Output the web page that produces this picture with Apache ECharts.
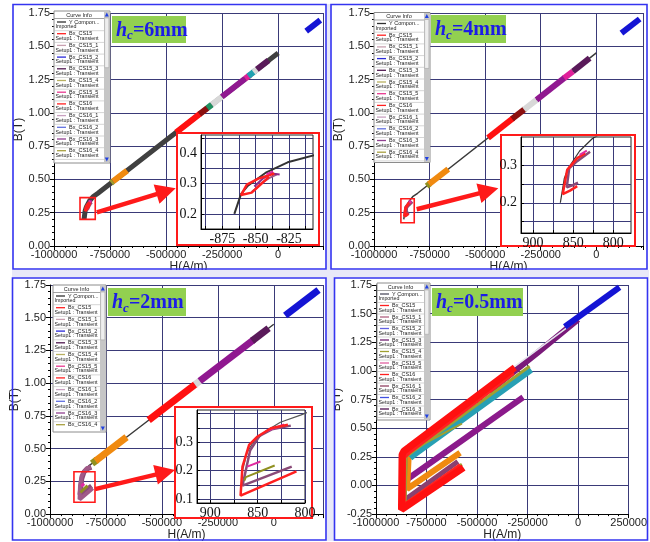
<!DOCTYPE html>
<html>
<head>
<meta charset="utf-8">
<title>B-H curves for different hc</title>
<script src="https://cdn.jsdelivr.net/npm/echarts@6.0.0/dist/echarts.min.js"></script>
<style>
html,body{margin:0;padding:0;background:#ffffff;}
#chart{width:650px;height:542px;}
</style>
</head>
<body>
<div id="chart"></div>
<script>
// ---------------- data ----------------
const hcTags = ['6mm', '4mm', '2mm', '0.5mm'];

// Imported Y-component B-H curve (H in A/m, B in T)
const yComponent = [[-866000,0.200],[-861000,0.265],[-856000,0.292],[-842000,0.337],[-826000,0.370],[-804000,0.396],[0,1.450]];

// Minor loops sitting on the curve, each [H1, B1, H2, B2]
const loops6 = [
  [-745000,0.474,-737000,0.485],[-737000,0.485,-674000,0.567],[-455000,0.854,-348000,0.994],
  [-351000,0.990,-316000,1.036],[-316000,1.036,-296000,1.062],[-296000,1.062,-251000,1.121],
  [-251000,1.121,-147000,1.257],[-147000,1.257,-125000,1.286],[-133000,1.276,-103000,1.315],
  [-110000,1.306,-88000,1.335],[-95000,1.326,-43000,1.394],[125000,1.614,188000,1.696]
];
const loops4 = [
  [-763000,0.450,-748000,0.470],[-753000,0.464,-666000,0.578],[-487000,0.812,-374000,0.960],
  [-379000,0.954,-322000,1.028],[-325000,1.024,-269000,1.098],[-269000,1.098,-142000,1.264],
  [-145000,1.260,-105000,1.312],[-105000,1.312,-30000,1.411],[113000,1.598,195000,1.705]
];
const loops2 = [
  [-812000,0.386,-789000,0.416],[-797000,0.406,-658000,0.588],[-559000,0.718,-350000,0.992],
  [-352000,0.989,-328000,1.020],[-331000,1.016,-90000,1.332],[-97000,1.323,-23000,1.420],
  [51000,1.517,200000,1.712]
];

// Loops near the knee, H in kA/m
const knee6Red = [[-836,0.333],[-848,0.316],[-856.6,0.296],[-861,0.262],[-853,0.270],[-848,0.290],[-840,0.322]];
const knee6Mauve = [[-853,0.272],[-850,0.283],[-846,0.300],[-840,0.318],[-834,0.330]];
const knee6Purple = [[-851,0.290],[-845,0.315],[-838,0.333],[-832,0.330]];
const knee6Magenta = [[-842,0.330],[-837,0.340]];

const knee4Red = [[-835,0.331],[-845,0.318],[-857.5,0.287],[-863,0.223],[-854,0.232],[-845,0.244]];
const knee4Mauve = [[-829,0.335],[-845,0.310],[-855,0.291],[-858,0.241],[-850,0.247],[-844,0.253]];
const knee4Magenta = [[-842,0.327],[-833,0.338]];

const knee2Red = [[-818,0.361],[-836,0.349],[-850,0.320],[-859,0.290],[-866,0.214],[-868,0.112],[-809,0.197]];
const knee2Mauve = [[-815,0.358],[-835,0.345],[-848,0.322],[-858,0.270],[-866,0.147],[-814,0.214]];
const knee2Olive = [[-864,0.165],[-862.5,0.177],[-832,0.218]];
const knee2Pink = [[-861,0.214],[-847,0.232]];
const knee2PinkTop = [[-840,0.340],[-822,0.362]];

// hc = 0.5 mm major loops (H in A/m, B in T)
const p4PurpleTop = [[-440000,0.82],[-200000,1.16],[0,1.45]];
const p4Purple = [[-830000,0.32],[-845000,0.27],[-849000,0.05],[-272000,0.77]];
const p4Orange = [[-820000,0.31],[-838000,0.27],[-846000,-0.03],[-584000,0.285]];
const p4Mauve = [[-330000,1.00],[-840000,0.32],[-857000,0.26],[-861000,-0.13],[-595000,0.21]];
const p4Olive = [[-240000,1.04],[-815000,0.30],[-851000,0.25],[-856000,-0.16],[-575000,0.185]];
const p4Olive2 = [[-575000,0.54],[-830000,0.30]];
const p4Cyan = [[-232000,1.01],[-810000,0.27],[-830000,0.24]];
const p4Red2 = [[-322000,0.99],[-836000,0.30],[-866000,0.25],[-868000,-0.19],[-580000,0.17]];
const p4Red = [[-313000,1.03],[-839000,0.33],[-862000,0.30],[-871000,0.27],[-874000,-0.21],[-866000,-0.22],[-567000,0.156]];
const p4Blue = [[-66000,1.386],[205000,1.73]];

// legend entries
const legendNames = ['Y Compon...','Bx_CS15','Bx_CS15_1','Bx_CS15_2','Bx_CS15_3','Bx_CS15_4','Bx_CS15_5','Bx_CS16','Bx_CS16_1','Bx_CS16_2','Bx_CS16_3','Bx_CS16_4'];
const legendSubs = ['Imported','Setup1 : Transient','Setup1 : Transient','Setup1 : Transient','Setup1 : Transient','Setup1 : Transient','Setup1 : Transient','Setup1 : Transient','Setup1 : Transient','Setup1 : Transient','Setup1 : Transient','Setup1 : Transient'];

// ---------------- styles ----------------
const FONT = 'Liberation Sans';
const SERIF = 'Liberation Serif';
const GRIDLINE = '#3a3a78';
const legendColors = ['#303030','#ff2020','#c8a0b0','#2828d8','#501850','#b8b060','#e83890','#ff2020','#c8a0c0','#6070e0','#904090','#a8a040'];
const legendColors4 = ['#505060','#ff2020','#b06080','#6060e0','#702070','#a0a030','#e060a0','#ff2020','#904060','#4050e0','#501050'];
const loopColors6 = ['#a0a030','#f08a10','#ff1010','#8b1010','#209060','#d8d8d8','#901890','#e0209a','#20a0b0','#d8d8d8','#5a1a5a','#1414d4'];
const loopColors4 = ['#909020','#f08a10','#ff1010','#8b1010','#d8d8d8','#901890','#e0209a','#5a1a5a','#1414d4'];
const loopColors2 = ['#909020','#f08a10','#ff1010','#d8d8d8','#901890','#5a1a5a','#1414d4'];

const mainGrids = [
  {left:54, top:13, width:269, height:233},
  {left:374, top:13, width:269, height:233},
  {left:50, top:285, width:273, height:233},
  {left:376, top:285, width:254, height:232}
];
const hMax = [200000, 210000, 220000, 250000];
const bMin = [0, 0, 0, -0.25];
const bNameGap = [27, 27, 24, 30];

const insetGrids = [
  {left:201, top:135, width:112, height:94},
  {left:521, top:137, width:110, height:96},
  {left:197, top:410, width:108, height:93}
];
const insetX = [
  {min:-891, max:-807, ticks:[-887.5,-875,-862.5,-850,-837.5,-825,-812.5], labels:[-875,-850,-825], abs:false},
  {min:-915, max:-778, ticks:[-900,-875,-850,-825,-800], labels:[-900,-850,-800], abs:true},
  {min:-914, max:-800, ticks:[-900,-875,-850,-825,-800], labels:[-900,-850,-800], abs:true}
];
const insetY = [
  {min:0.15, max:0.46, ticks:[0.15,0.2,0.25,0.3,0.35,0.4,0.45], labels:[0.2,0.3,0.4]},
  {min:0.12, max:0.374, ticks:[0.15,0.2,0.25,0.3,0.35], labels:[0.2,0.3]},
  {min:0.086, max:0.413, ticks:[0.1,0.15,0.2,0.25,0.3,0.35,0.4], labels:[0.1,0.2,0.3]}
];

// ---------------- axes ----------------
const grids = [];
const xAxes = [];
const yAxes = [];
mainGrids.forEach((g, i) => {
  grids.push(Object.assign({show:false}, g));
  xAxes.push({
    type:'value', gridIndex:i, min:-1000000, max:hMax[i], interval:250000,
    name:'H(A/m)', nameLocation:'middle', nameGap:11,
    nameTextStyle:{fontFamily:FONT, fontSize:12, color:'#222'},
    axisLine:{show:true, onZero:false, lineStyle:{color:'#000', width:1}},
    axisTick:{show:true, inside:false, length:4, lineStyle:{color:'#000'}},
    minorTick:{show:true, splitNumber:5, length:2, lineStyle:{color:'#000'}},
    axisLabel:{formatter:v => String(v), fontFamily:FONT, fontSize:11, color:'#222', margin:3,
               showMaxLabel:i === 3, showMinLabel:true},
    splitLine:{show:true, lineStyle:{color:GRIDLINE, width:1}}
  });
  yAxes.push({
    type:'value', gridIndex:i, min:bMin[i], max:1.75, interval:0.25,
    name:'B(T)', nameLocation:'middle', nameGap:bNameGap[i], nameRotate:90,
    nameTextStyle:{fontFamily:FONT, fontSize:12, color:'#222'},
    axisLine:{show:true, onZero:false, lineStyle:{color:'#000', width:1}},
    axisTick:{show:true, inside:false, length:4, lineStyle:{color:'#000'}},
    minorTick:{show:true, splitNumber:5, length:2, lineStyle:{color:'#000'}},
    axisLabel:{formatter:v => v.toFixed(2), fontFamily:FONT, fontSize:11, color:'#222', margin:4},
    splitLine:{show:true, lineStyle:{color:GRIDLINE, width:1}}
  });
});
insetGrids.forEach((g, k) => {
  const gi = 4 + k;
  grids.push(Object.assign({show:true, z:6, backgroundColor:'#fff', borderColor:'#222', borderWidth:1}, g));
  const ax = insetX[k], ay = insetY[k];
  xAxes.push({
    type:'value', gridIndex:gi, min:ax.min, max:ax.max, z:7,
    axisLine:{show:true, onZero:false, lineStyle:{color:'#000'}},
    axisTick:{show:true, inside:true, length:3, customValues:ax.ticks, lineStyle:{color:'#000'}},
    axisLabel:{customValues:ax.labels, formatter:v => String(ax.abs ? Math.abs(v) : v),
               fontFamily:SERIF, fontSize:14, color:'#111', margin:3},
    splitLine:{show:true, lineStyle:{color:GRIDLINE, width:1}}
  });
  yAxes.push({
    type:'value', gridIndex:gi, min:ay.min, max:ay.max, z:7,
    axisLine:{show:true, onZero:false, lineStyle:{color:'#000'}},
    axisTick:{show:true, inside:true, length:3, customValues:ay.ticks, lineStyle:{color:'#000'}},
    axisLabel:{customValues:ay.labels, formatter:v => v.toFixed(1),
               fontFamily:SERIF, fontSize:14, color:'#111', margin:4},
    splitLine:{show:true, lineStyle:{color:GRIDLINE, width:1}}
  });
});

// ---------------- series ----------------
const series = [];
function line(ai, data, color, width, z) {
  series.push({type:'line', xAxisIndex:ai, yAxisIndex:ai, data:data, symbol:'none', silent:true,
    animation:false, z:z, lineStyle:{color:color, width:width}});
}
const kA = arr => arr.map(p => [p[0] * 1000, p[1]]);
const toKA = arr => arr.map(p => [p[0] / 1000, p[1]]);
function loopSegments(ai, loops, colors, width) {
  loops.forEach((s, i) => line(ai, [[s[0], s[1]], [s[2], s[3]]], colors[i], width, 3));
}

// hc = 6 mm
line(0, yComponent, '#404040', 5, 2);
loopSegments(0, loops6, loopColors6, 6);
line(0, kA(knee6Mauve), '#a05a88', 4, 3);
line(0, kA(knee6Purple), '#8a2a8a', 4, 3);
line(0, kA(knee6Red), '#ff2020', 3, 3);
line(0, kA(knee6Magenta), '#e02aa0', 3, 3);
// hc = 4 mm
line(1, yComponent, '#3a3a3a', 1.5, 2);
loopSegments(1, loops4, loopColors4, 6);
line(1, kA(knee4Mauve), '#8a4a78', 4, 3);
line(1, kA(knee4Red), '#ff2020', 3, 3);
line(1, kA(knee4Magenta), '#e02aa0', 3, 3);
// hc = 2 mm
line(2, yComponent, '#3a3a3a', 1.5, 2);
loopSegments(2, loops2, loopColors2, 7);
line(2, kA(knee2Mauve), '#8a4a78', 5, 3);
line(2, kA(knee2Red), '#a05a88', 4, 3);
line(2, kA(knee2Olive), '#909020', 3, 3);
line(2, kA(knee2Pink), '#e02aa0', 3, 3);
// hc = 0.5 mm
line(3, p4PurpleTop, '#7a1a7a', 6, 3);
line(3, p4Purple, '#8b1a8b', 6, 3);
line(3, p4Orange, '#f08a10', 6, 3);
line(3, p4Mauve, '#8a4070', 5, 3);
line(3, p4Cyan, '#28a0b4', 6, 3);
line(3, p4Olive, '#a0a030', 3, 3);
line(3, p4Olive2, '#a0a030', 2, 3);
line(3, yComponent, '#e4e4ec', 1.5, 3);
line(3, p4Red2, '#ff2020', 6, 4);
line(3, p4Red, '#ff1010', 7, 4);
line(3, p4Blue, '#1414d4', 6, 4);

// insets
line(4, toKA(yComponent), '#333', 2, 8);
line(4, knee6Mauve, '#a05a88', 2, 8);
line(4, knee6Purple, '#8a2a8a', 2, 8);
line(4, knee6Red, '#ff2020', 2.5, 9);
line(4, knee6Magenta, '#e02aa0', 2, 9);

line(5, toKA(yComponent), '#333', 1.2, 8);
line(5, knee4Mauve, '#8a4a78', 2.5, 8);
line(5, knee4Red, '#ff2020', 2.5, 9);
line(5, knee4Magenta, '#e02aa0', 2, 9);

line(6, toKA(yComponent), '#555', 1.2, 8);
line(6, knee2Mauve, '#8a4a78', 2.5, 8);
line(6, knee2Olive, '#909020', 2, 8);
line(6, knee2Pink, '#e02aa0', 2, 8);
line(6, knee2PinkTop, '#e02aa0', 2, 8);
line(6, knee2Red, '#ff2020', 2.5, 9);

// ---------------- chart ----------------
const chart = echarts.init(document.getElementById('chart'), null, {renderer:'canvas'});
chart.setOption({animation:false, backgroundColor:'#ffffff', grid:grids, xAxis:xAxes, yAxis:yAxes, series:series});

// ---------------- annotations ----------------
const panelFrames = [
  {x:13, y:4.5, w:313, h:264.5}, {x:331, y:4.5, w:316, h:264.5},
  {x:12.5, y:278, w:313.5, h:262}, {x:334.5, y:278, w:313, h:262}
];
const gapBands = [
  {x:12, y:270, w:637, h:7.5}, {x:326.5, y:4, w:4, h:266}, {x:326.5, y:277, w:7.5, h:264}
];
const tagBoxes = [
  {x:112, y:16, w:74, h:27}, {x:431, y:15, w:75, h:28},
  {x:108, y:288, w:78, h:28}, {x:432, y:288, w:91, h:28}
];
const legendBoxes = [
  {x:54, y:11, w:56, h:152, row:11.7, n:12},
  {x:374, y:12.5, w:56, h:150, row:11.7, n:12},
  {x:53, y:285, w:53, h:147, row:11.7, n:12},
  {x:377, y:283, w:53, h:137, row:11.5, n:11}
];
// zoom windows in data units [Hmin, Bmax, Hmax, Bmin]
const zoomWindows = [[-884000,0.363,-816000,0.200],[-879000,0.355,-819000,0.175],[-893000,0.323,-799000,0.090]];
const arrowStarts = [[-809000,0.253],[-808000,0.276],[-799000,0.190]];
const arrowTips = [[175.7,188.3],[498.3,188.3],[175,470]];
const insetFrames = [
  {x:177, y:133, w:142, h:112}, {x:501, y:135, w:134, h:111}, {x:175, y:407, w:137, h:111}
];

const graphics = [];
gapBands.forEach(f => graphics.push({type:'rect', z:29, silent:true,
  shape:{x:f.x, y:f.y, width:f.w, height:f.h}, style:{fill:'#e8e8f8'}}));
panelFrames.forEach(f => graphics.push({type:'rect', z:30, silent:true,
  shape:{x:f.x, y:f.y, width:f.w, height:f.h}, style:{fill:'none', stroke:'#3434f0', lineWidth:1.6}}));

insetFrames.forEach(f => graphics.push({type:'rect', z:5, silent:true,
  shape:{x:f.x, y:f.y, width:f.w, height:f.h}, style:{fill:'#fff', stroke:'#ff1a1a', lineWidth:2}}));

zoomWindows.forEach((w, k) => {
  const a = chart.convertToPixel({gridIndex:k}, [w[0], w[1]]);
  const b = chart.convertToPixel({gridIndex:k}, [w[2], w[3]]);
  graphics.push({type:'rect', z:9, silent:true,
    shape:{x:a[0], y:a[1], width:b[0]-a[0], height:b[1]-a[1]}, style:{fill:'none', stroke:'#ff1a1a', lineWidth:1.6}});
  const s = chart.convertToPixel({gridIndex:k}, arrowStarts[k]);
  const t = arrowTips[k];
  const dx = t[0]-s[0], dy = t[1]-s[1], L = Math.hypot(dx, dy);
  const ux = dx/L, uy = dy/L, nx = -uy, ny = ux;
  const hl = 20, hw = 10, sw = 2.2;
  const bx = t[0]-ux*hl, by = t[1]-uy*hl;
  graphics.push({type:'polygon', z:9, silent:true, shape:{points:[
    [s[0]+nx*sw, s[1]+ny*sw], [bx+nx*sw, by+ny*sw], [bx+nx*hw, by+ny*hw], [t[0], t[1]],
    [bx-nx*hw, by-ny*hw], [bx-nx*sw, by-ny*sw], [s[0]-nx*sw, s[1]-ny*sw]]},
    style:{fill:'#ff1a1a'}});
});

tagBoxes.forEach((b, k) => {
  graphics.push({type:'rect', z:20, silent:true, shape:{x:b.x, y:b.y, width:b.w, height:b.h}, style:{fill:'#92d050'}});
  graphics.push({type:'text', z:21, silent:true, x:b.x + 4, y:b.y + b.h/2 + 1, style:{
    text:'{i|h}{s|c}{n|=' + hcTags[k] + '}', verticalAlign:'middle',
    rich:{
      i:{fontFamily:SERIF, fontStyle:'italic', fontWeight:'bold', fontSize:20, fill:'#1c1ce6', lineHeight:24, verticalAlign:'middle'},
      s:{fontFamily:SERIF, fontStyle:'italic', fontWeight:'bold', fontSize:13, fill:'#1c1ce6', lineHeight:24, verticalAlign:'bottom'},
      n:{fontFamily:SERIF, fontWeight:'bold', fontSize:20, fill:'#1c1ce6', lineHeight:24, verticalAlign:'middle'}
    }}});
});

legendBoxes.forEach((b, k) => {
  const colors = k === 3 ? legendColors4 : legendColors;
  const innerW = b.w - 6;
  graphics.push({type:'rect', z:20, silent:true, shape:{x:b.x, y:b.y, width:b.w, height:b.h}, style:{fill:'#fff', stroke:'#8c8c8c', lineWidth:1}});
  const sx = b.x + innerW;
  graphics.push({type:'rect', z:21, silent:true, shape:{x:sx, y:b.y+0.5, width:5.5, height:b.h-1}, style:{fill:'#c6c6c6'}});
  graphics.push({type:'rect', z:22, silent:true, shape:{x:sx+0.6, y:b.y+7, width:4.3, height:(b.h-14)*0.36}, style:{fill:'#eeeeee', stroke:'#a6a6a6', lineWidth:0.6}});
  graphics.push({type:'polygon', z:22, silent:true, shape:{points:[[sx+0.8,b.y+5.5],[sx+4.8,b.y+5.5],[sx+2.8,b.y+1.5]]}, style:{fill:'#2040e0'}});
  graphics.push({type:'polygon', z:22, silent:true, shape:{points:[[sx+0.8,b.y+b.h-5.5],[sx+4.8,b.y+b.h-5.5],[sx+2.8,b.y+b.h-1.5]]}, style:{fill:'#2040e0'}});
  graphics.push({type:'text', z:22, silent:true, x:b.x + innerW/2, y:b.y + 4, style:{text:'Curve Info', fontFamily:FONT, fontSize:5.5, fill:'#222', align:'center', verticalAlign:'middle'}});
  graphics.push({type:'line', z:22, silent:true, shape:{x1:b.x, y1:b.y+7.5, x2:sx, y2:b.y+7.5}, style:{stroke:'#8c8c8c', lineWidth:0.8}});
  for (let i = 0; i < b.n; i++) {
    const ty = b.y + 8 + i * b.row;
    if (ty + 5 > b.y + b.h) break;
    graphics.push({type:'line', z:22, silent:true, shape:{x1:b.x+3, y1:ty+3, x2:b.x+12, y2:ty+3}, style:{stroke:colors[i], lineWidth:1.3}});
    graphics.push({type:'text', z:22, silent:true, x:b.x+15, y:ty+3, style:{text:legendNames[i], fontFamily:FONT, fontSize:5.5, fill:'#222', verticalAlign:'middle'}});
    if (ty + b.row - 1 < b.y + b.h) {
      graphics.push({type:'text', z:22, silent:true, x:b.x+1.5, y:ty+7.8, style:{text:legendSubs[i], fontFamily:FONT, fontSize:5.3, fill:'#222', verticalAlign:'middle'}});
      graphics.push({type:'line', z:22, silent:true, shape:{x1:b.x, y1:ty+b.row, x2:sx, y2:ty+b.row}, style:{stroke:'#b8b8b8', lineWidth:0.6}});
    }
  }
});

chart.setOption({graphic:{elements:graphics}});
</script>
</body>
</html>
